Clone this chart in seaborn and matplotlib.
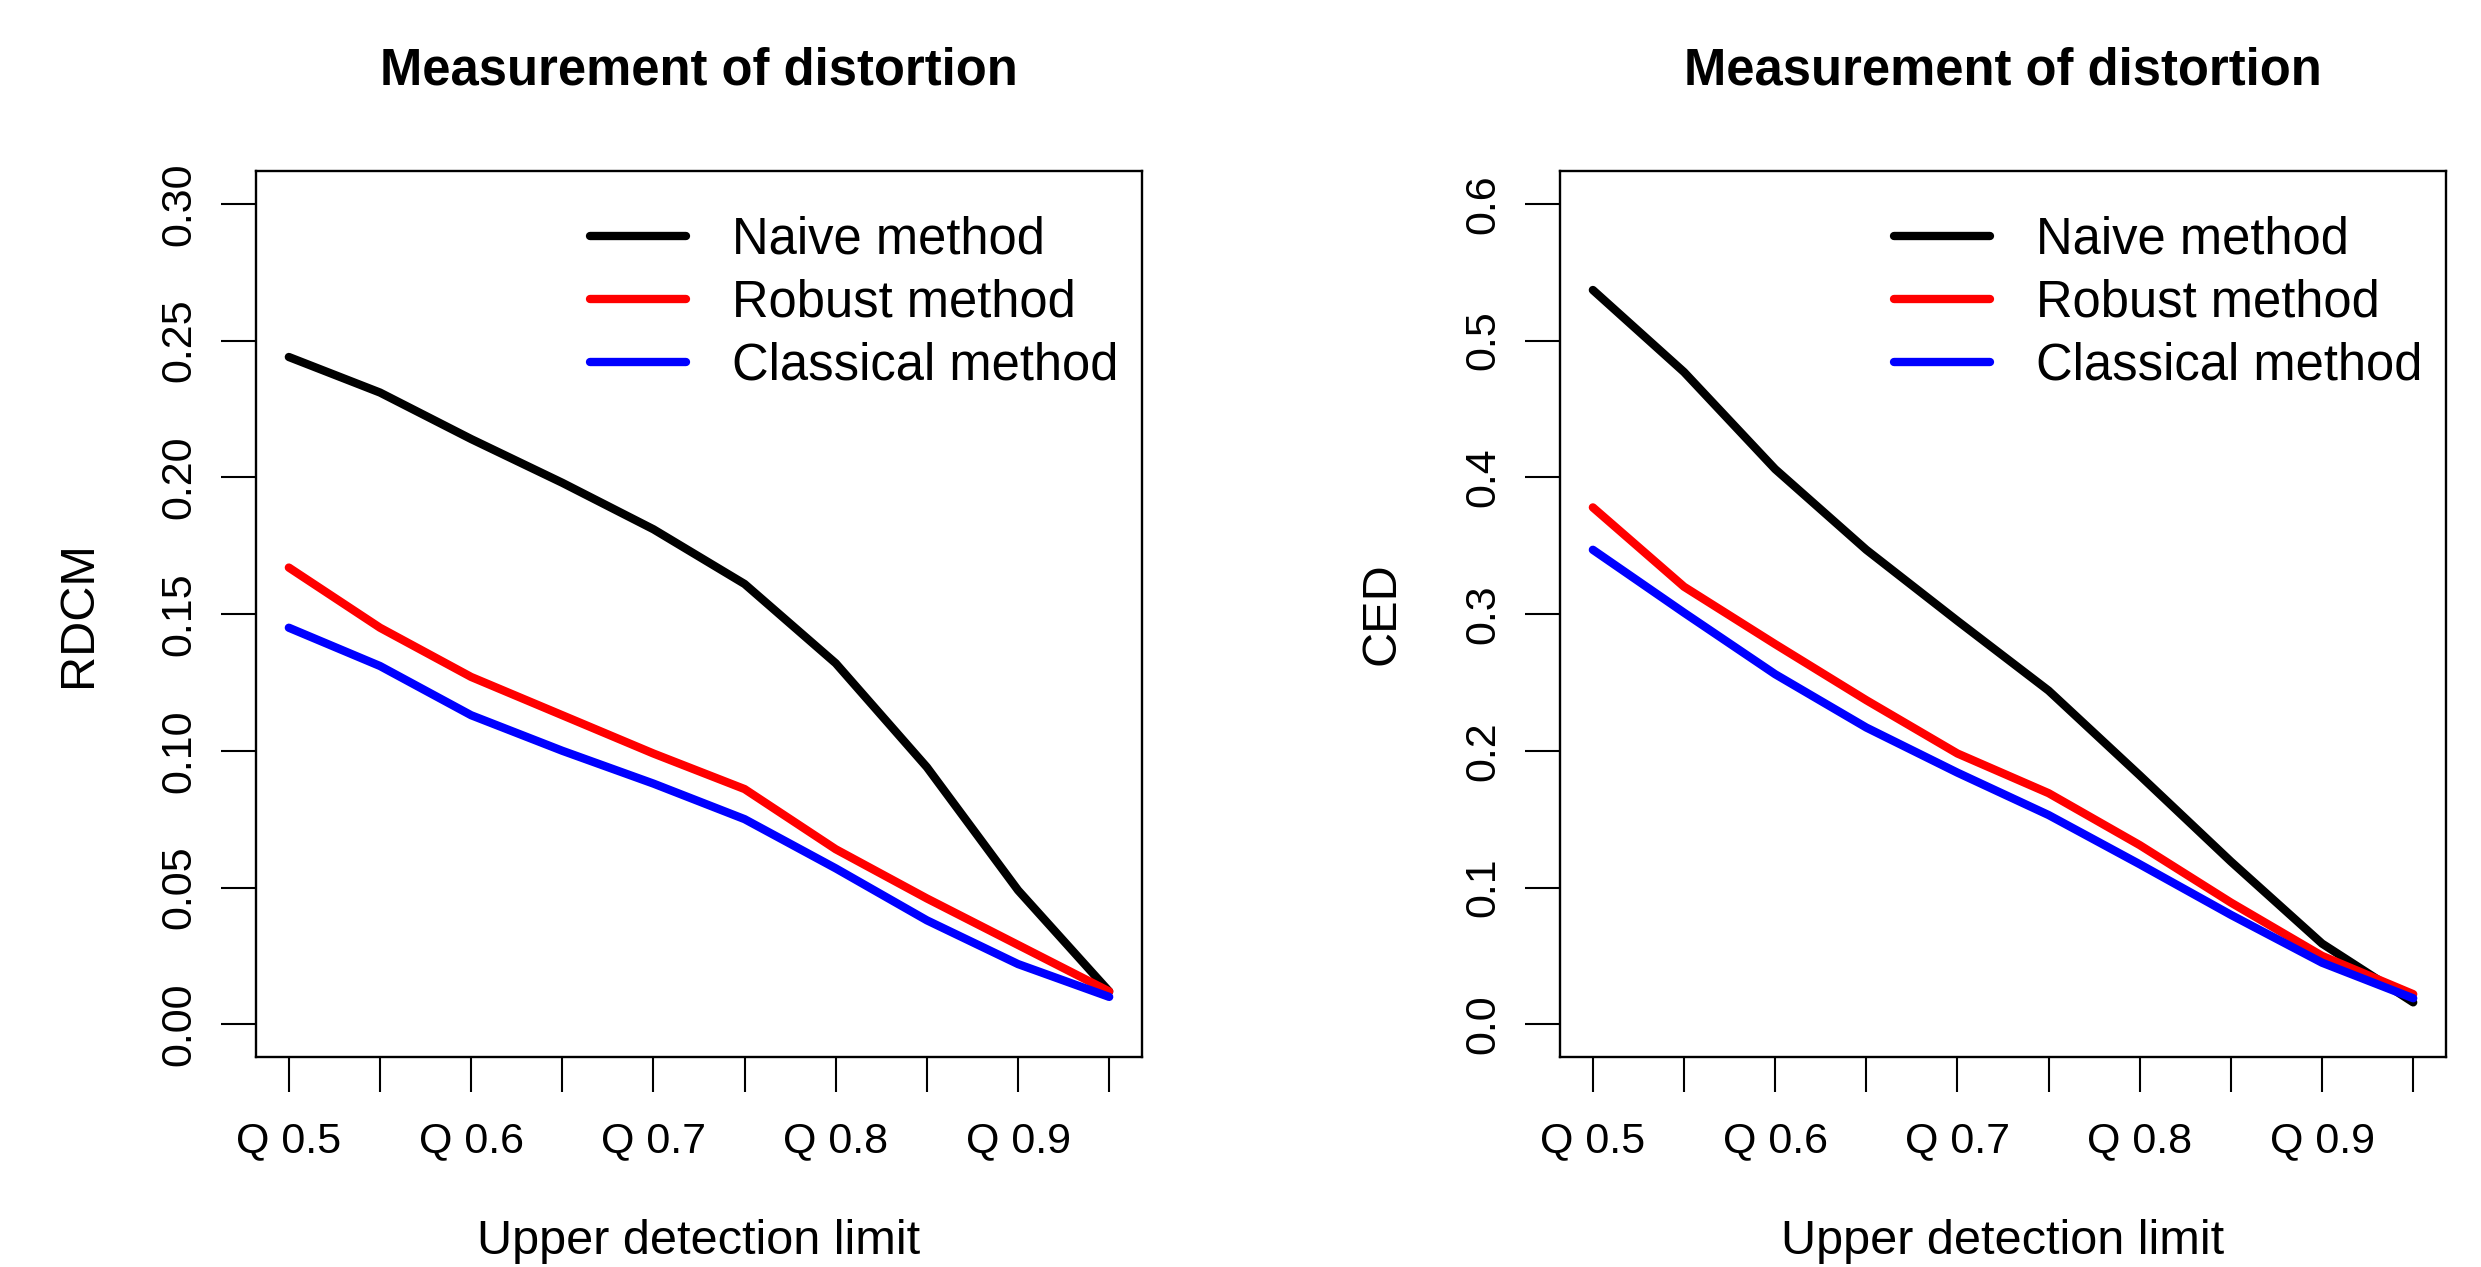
import numpy as np
import pandas as pd
import seaborn as sns
import matplotlib
matplotlib.use("Agg")
import matplotlib.pyplot as plt

# upper detection limits (quantiles)
quantiles = [0.50, 0.55, 0.60, 0.65, 0.70, 0.75, 0.80, 0.85, 0.90, 0.95]
methods = ["Naive method", "Robust method", "Classical method"]

# left panel: RDCM
rdcm_naive = [0.244, 0.231, 0.214, 0.198, 0.181, 0.161, 0.132, 0.094, 0.049, 0.012]
rdcm_robust = [0.167, 0.145, 0.127, 0.113, 0.099, 0.086, 0.064, 0.046, 0.029, 0.012]
rdcm_classical = [0.145, 0.131, 0.113, 0.100, 0.088, 0.075, 0.057, 0.038, 0.022, 0.010]

# right panel: CED
ced_naive = [0.537, 0.477, 0.406, 0.347, 0.295, 0.244, 0.182, 0.119, 0.059, 0.016]
ced_robust = [0.378, 0.320, 0.278, 0.237, 0.198, 0.169, 0.131, 0.089, 0.050, 0.022]
ced_classical = [0.347, 0.301, 0.256, 0.217, 0.184, 0.153, 0.117, 0.080, 0.045, 0.019]

xtick_labels = ["Q 0.5", "", "Q 0.6", "", "Q 0.7", "", "Q 0.8", "", "Q 0.9", ""]
rdcm_ticks = [0.00, 0.05, 0.10, 0.15, 0.20, 0.25, 0.30]
rdcm_labels = ["0.00", "0.05", "0.10", "0.15", "0.20", "0.25", "0.30"]
ced_ticks = [0.0, 0.1, 0.2, 0.3, 0.4, 0.5, 0.6]
ced_labels = ["0.0", "0.1", "0.2", "0.3", "0.4", "0.5", "0.6"]

colors = {"Naive method": "black", "Robust method": "red", "Classical method": "blue"}

sns.set_style("white")
plt.rcParams["font.family"] = ["Liberation Sans", "DejaVu Sans"]
plt.rcParams["text.color"] = "black"
plt.rcParams["axes.labelcolor"] = "black"
plt.rcParams["xtick.color"] = "black"
plt.rcParams["ytick.color"] = "black"


def long_df(naive, robust, classical):
    frames = []
    for name, vals in zip(methods, [naive, robust, classical]):
        frames.append(pd.DataFrame({"q": quantiles, "value": vals, "method": name}))
    return pd.concat(frames, ignore_index=True)


fig = plt.figure(figsize=(24.81, 12.67), dpi=100)
ax1 = fig.add_axes([0.1032, 0.1657, 0.3571, 0.6993])
ax2 = fig.add_axes([0.6288, 0.1657, 0.3571, 0.6993])

panels = [
    (ax1, long_df(rdcm_naive, rdcm_robust, rdcm_classical), "RDCM", rdcm_ticks, rdcm_labels, 0.30),
    (ax2, long_df(ced_naive, ced_robust, ced_classical), "CED", ced_ticks, ced_labels, 0.60),
]

for ax, df, ylab, yt, ytl, ymax in panels:
    sns.lineplot(data=df, x="q", y="value", hue="method", palette=colors,
                 hue_order=methods, lw=6, ax=ax, sort=False)
    span = quantiles[-1] - quantiles[0]
    ax.set_xlim(quantiles[0] - 0.04 * span, quantiles[-1] + 0.04 * span)
    ax.set_ylim(-0.04 * ymax, ymax * 1.04)
    ax.set_xticks(quantiles)
    ax.set_xticklabels(xtick_labels, fontsize=31)
    ax.set_yticks(yt)
    ax.set_yticklabels(ytl, fontsize=31, rotation=90, va="center")
    ax.tick_params(axis="x", direction="out", length=25, width=1.5, pad=21, bottom=True)
    ax.tick_params(axis="y", direction="out", length=25, width=1.5, pad=16, left=True)
    for s in ax.spines.values():
        s.set_visible(True)
        s.set_color("black")
        s.set_linewidth(1.7)
    ax.set_xlabel("Upper detection limit", fontsize=35, labelpad=42)
    ax.set_ylabel(ylab, fontsize=35, labelpad=42)
    ax.set_title("Measurement of distortion", fontsize=36.5, fontweight="bold", pad=62)
    handles, labels = ax.get_legend_handles_labels()
    ax.legend(handles, labels, loc="upper left", bbox_to_anchor=(0.377, 0.95),
              frameon=False, fontsize=36.5, handlelength=1.9, handletextpad=0.9,
              labelspacing=0.28, borderpad=0, borderaxespad=0)

fig.savefig("out.png", dpi=100)
